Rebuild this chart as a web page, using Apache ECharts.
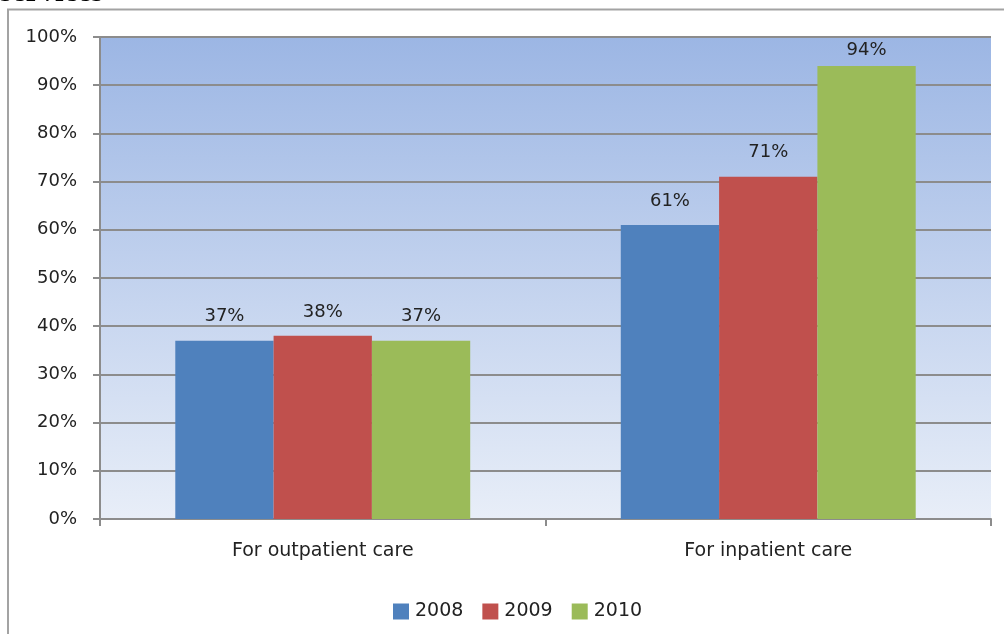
<!DOCTYPE html>
<html>
<head>
<meta charset="utf-8">
<script src="https://cdn.jsdelivr.net/npm/echarts@6/dist/echarts.min.js"></script>
<style>html,body{margin:0;padding:0;background:#fff}#c{width:1004px;height:634px}</style>
</head>
<body>
<div id="c"></div>
<script>
const categories = ['For outpatient care', 'For inpatient care'];
const seriesNames = ['2008', '2009', '2010'];
const values2008 = [37, 61];
const values2009 = [38, 71];
const values2010 = [37, 94];
const yTicks = [0, 10, 20, 30, 40, 50, 60, 70, 80, 90, 100];

const colors = ['#4f81bd', '#c0504d', '#9bbb59'];
const font = '"DejaVu Sans", Tahoma, sans-serif';
const chart = echarts.init(document.getElementById('c'));
const mk = (name, data, i) => ({
  name, type: 'bar',
  data: data.map(v => v > 90 ? { value: v, label: { distance: 7 } } : v),
  barGap: '0%', barCategoryGap: '33.8%',
  itemStyle: { color: colors[i] },
  label: { show: true, position: 'top', distance: 15, formatter: '{c}%', color: '#222', fontSize: 18, fontFamily: font }
});
chart.setOption({
  animation: false,
  textStyle: { fontFamily: font },
  graphic: [
    { type: 'rect', shape: { x: 8, y: 9.5, width: 1100, height: 800 }, style: { fill: 'none', stroke: '#a3a3a3', lineWidth: 2 }, silent: true },
    { type: 'text', left: 0, top: -23, style: { text: 'services', fontSize: 31, fontWeight: 'bold', fill: '#000', fontFamily: '"Liberation Serif", serif' } }
  ],
  grid: {
    left: 100, right: 13, top: 37, bottom: 115, show: true, borderWidth: 0,
    backgroundColor: { type: 'linear', x: 0, y: 0, x2: 0, y2: 1, colorStops: [{ offset: 0, color: '#9cb6e4' }, { offset: 1, color: '#e8eef8' }] }
  },
  legend: {
    top: 597, left: 388, itemWidth: 16, itemHeight: 16, itemGap: 19,
    icon: 'rect', textStyle: { fontSize: 19, color: '#222', fontFamily: font, padding: [0, 0, 0, 1] },
    data: seriesNames
  },
  xAxis: {
    type: 'category', data: categories,
    axisLine: { lineStyle: { color: '#8c8c8c', width: 2 } },
    axisTick: { show: true, length: 7, lineStyle: { color: '#8c8c8c', width: 2 } },
    axisLabel: { fontSize: 19, color: '#222', margin: 23, fontFamily: font }
  },
  yAxis: {
    type: 'value', min: 0, max: 100, interval: 10,
    axisLine: { show: true, lineStyle: { color: '#8c8c8c', width: 2 } },
    axisTick: { show: true, length: 7, lineStyle: { color: '#8c8c8c', width: 2 } },
    splitLine: { lineStyle: { color: '#8c8c8c', width: 2 } },
    axisLabel: { formatter: v => yTicks.includes(v) ? v + '%' : '', fontSize: 18, color: '#222', margin: 23, fontFamily: font }
  },
  series: [mk(seriesNames[0], values2008, 0), mk(seriesNames[1], values2009, 1), mk(seriesNames[2], values2010, 2)]
});
</script>
</body>
</html>
